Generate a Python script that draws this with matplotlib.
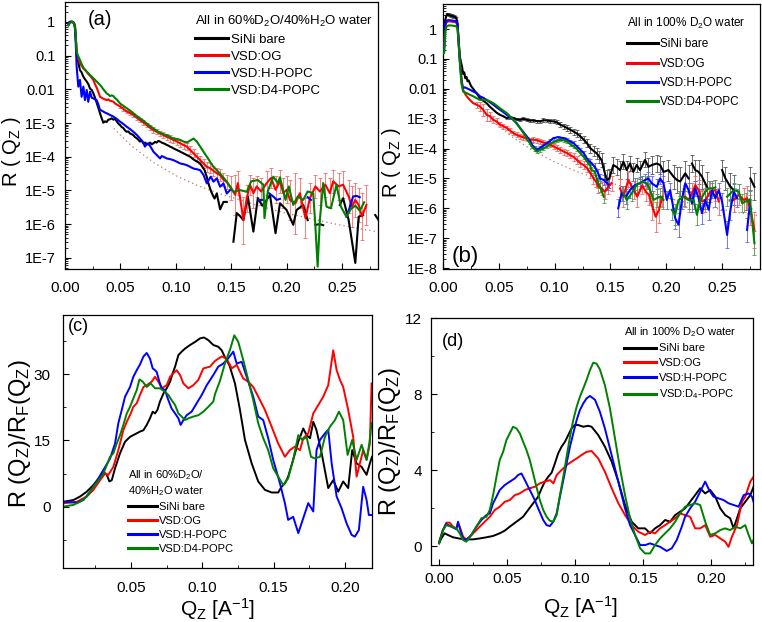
import numpy as np
import matplotlib
matplotlib.use('Agg')
import matplotlib.pyplot as plt
from matplotlib.ticker import FixedLocator, MultipleLocator, FuncFormatter, NullFormatter

plt.rcParams['font.family'] = ['Liberation Sans', 'DejaVu Sans']
plt.rcParams['mathtext.default'] = 'regular'

nan = np.nan

# ---------------- Panel (a): 60% D2O, (q, log10 R[, log10 error]) ----------------
black_a = [(0.003,-0.10),(0.004,0.00),(0.006,0.01),(0.008,-0.02),(0.009,-0.12),(0.0098,-0.50),(0.0105,-0.95),
 (0.0120,-1.20),(0.0135,-1.43),(0.0150,-1.50),(0.0165,-1.62),(0.0180,-1.70),(0.0196,-1.77),(0.0211,-1.85),
 (0.0226,-1.98),(0.0241,-2.02),(0.0256,-2.12),(0.0271,-2.25),(0.0286,-2.40),(0.0301,-2.55),(0.0316,-2.71),
 (0.0331,-2.86),(0.0346,-2.99),(0.0361,-2.95),(0.0376,-2.97),(0.0391,-2.90),(0.0406,-2.89),(0.0421,-2.86),
 (0.0437,-2.90),(0.0452,-2.88),(0.0467,-2.95),(0.0482,-3.02),(0.0497,-3.06),(0.0512,-3.12),(0.0527,-3.15),
 (0.0542,-3.22),(0.0557,-3.26),(0.0572,-3.25),(0.0587,-3.31),(0.0602,-3.33),(0.0617,-3.36),(0.0632,-3.42),
 (0.0647,-3.45),(0.0662,-3.50),(0.0677,-3.55),(0.0692,-3.52),(0.0707,-3.60),(0.0722,-3.58),(0.0737,-3.62),
 (0.0752,-3.64),(0.0768,-3.58),(0.0783,-3.63),(0.0798,-3.60),(0.0813,-3.56),(0.0828,-3.58),(0.0843,-3.53),
 (0.0858,-3.55),(0.0873,-3.58),(0.0888,-3.60),(0.0903,-3.62),(0.0918,-3.65),(0.0933,-3.67),(0.0948,-3.70),
 (0.0963,-3.72),(0.0978,-3.75),(0.101,-3.80),(0.104,-3.85),(0.107,-3.90),(0.110,-3.95),(0.113,-4.00),
 (0.116,-4.08),(0.119,-4.14),(0.122,-4.20),(0.124,-4.30),(0.126,-4.40),(0.128,-4.60),(0.129,-4.74),
 (0.1305,-4.90),(0.132,-5.04),(0.1335,-5.15),(0.135,-5.24),(0.137,-5.09),(0.140,-5.56),(0.143,-5.34),
 (0.146,-5.34),(0.149,nan),(0.152,-6.52),(0.155,-5.67),(0.158,-5.76),(0.161,-5.88),(0.165,-5.18),(0.170,-6.22),
 (0.174,-5.23),(0.178,-5.45),(0.181,-5.33),(0.185,-5.13),(0.190,-6.27),(0.194,-5.38),(0.200,-5.58),(0.206,-6.02),
 (0.209,-5.58),(0.215,-5.43),(0.219,-5.88),(0.222,nan),(0.226,-6.02),(0.230,-6.00),(0.233,-6.03),(0.236,nan),
 (0.248,-5.43),(0.251,-5.23),(0.256,-5.88),(0.262,-7.15),(0.265,-5.78),(0.269,-5.73),(0.272,nan),
 (0.280,-5.73),(0.283,-5.88)]

red_a = [(0.003,-0.05,0),(0.005,0.0,0),(0.007,0.0,0),(0.008,-0.03,0),(0.009,-0.10,0),(0.0098,-0.50,0),
 (0.0105,-0.95,0),(0.012,-1.10,0),(0.0135,-1.23,0),(0.015,-1.30,0),(0.0165,-1.38,0),(0.018,-1.42,0),
 (0.0196,-1.48,0),(0.0211,-1.55,0),(0.0226,-1.60,0),(0.0241,-1.66,0),(0.0256,-1.72,0),(0.0271,-1.85,0),
 (0.0286,-1.95,0),(0.0301,-2.08,0),(0.0316,-2.22,0),(0.0331,-2.25,0),(0.0346,-2.28,0),(0.0361,-2.30,0),
 (0.0376,-2.32,0),(0.0391,-2.30,0),(0.0406,-2.34,0),(0.0421,-2.35,0),(0.0437,-2.37,0),(0.0452,-2.42,0),
 (0.0467,-2.45,0),(0.0482,-2.48,0),(0.0497,-2.51,0.05),(0.0527,-2.58,0.05),(0.0557,-2.66,0.05),
 (0.0587,-2.70,0.05),(0.0617,-2.76,0.06),(0.0647,-2.84,0.06),(0.0677,-2.91,0.06),(0.0707,-2.98,0.07),
 (0.0737,-3.06,0.07),(0.0768,-3.14,0.07),(0.0798,-3.21,0.08),(0.0828,-3.26,0.08),(0.0858,-3.31,0.08),
 (0.0888,-3.36,0.09),(0.0918,-3.41,0.09),(0.0948,-3.45,0.10),(0.0978,-3.50,0.10),(0.101,-3.55,0.10),
 (0.104,-3.60,0.10),(0.107,-3.65,0.11),(0.110,-3.70,0.11),(0.113,-3.80,0.12),(0.116,-3.90,0.12),
 (0.119,-4.00,0.12),(0.122,-4.10,0.13),(0.125,-4.20,0.14),(0.128,-4.30,0.15),(0.131,-4.34,0.15),
 (0.134,-4.42,0.16),(0.137,-4.49,0.17),(0.140,-4.55,0.18),(0.143,-4.68,0.20),(0.146,-4.75,0.20),
 (0.150,-4.93,0.35),(0.1536,-5.13,0.60),(0.156,-4.78,0.35),(0.161,-5.88,0.70),(0.164,-5.23,0.40),
 (0.167,-4.83,0.30),(0.170,-5.08,0.45),(0.173,-4.88,0.30),(0.177,-5.03,0.40),(0.182,-4.78,0.35),
 (0.186,-4.63,0.30),(0.190,-4.98,0.40),(0.194,-4.73,0.35),(0.197,-5.08,0.45),(0.200,-4.98,0.40),
 (0.203,-5.28,0.60),(0.208,-5.38,0.90),(0.212,-5.08,0.45),(0.217,-5.82,0.60),(0.221,-5.23,0.45),
 (0.226,-4.88,0.35),(0.230,-5.03,0.40),(0.235,-4.83,0.35),(0.239,-5.08,0.45),(0.242,-4.73,0.35),
 (0.247,-4.88,0.40),(0.251,-4.83,0.40),(0.256,-5.18,0.50),(0.259,-5.48,0.60),(0.262,-5.28,0.50),
 (0.265,-5.43,0.50),(0.268,-5.77,0.70),(0.272,-5.43,0.60)]

blue_a = [(0.003,-0.05),(0.005,0.0),(0.007,0.0),(0.008,-0.05),(0.009,-0.20),(0.0098,-0.70),(0.0105,-1.33),
 (0.012,-1.92),(0.0135,-1.72),(0.015,-2.22),(0.0166,-1.92),(0.018,-2.32),(0.0196,-2.02),(0.021,-2.37),
 (0.0226,-2.07),(0.0241,-2.25),(0.0256,-2.27),(0.0271,-2.30),(0.0286,-2.32),(0.0301,-2.45),(0.0316,-2.61),
 (0.0331,-2.63),(0.0346,-2.66),(0.0361,-2.69),(0.0376,-2.71),(0.0406,-2.76),(0.0437,-2.81),(0.0467,-2.88),
 (0.0497,-2.96),(0.0527,-3.03),(0.0557,-3.11),(0.0587,-3.18),(0.0617,-3.26),(0.0647,-3.35),(0.0677,-3.46),
 (0.0700,-3.55),(0.0722,-3.70),(0.0737,-3.62),(0.0752,-3.60),(0.0775,-3.72),(0.0798,-3.85),(0.0828,-3.95),
 (0.0858,-4.05),(0.0873,-3.98),(0.0888,-4.00),(0.0918,-4.05),(0.0948,-4.07),(0.0978,-4.10),(0.101,-4.15),
 (0.104,-4.20),(0.107,-4.22),(0.110,-4.25),(0.113,-4.30),(0.116,-4.35),(0.119,-4.37),(0.122,-4.40),
 (0.125,-4.54),(0.128,-4.79),(0.1315,-4.59),(0.134,-4.74),(0.137,-4.64),(0.140,-4.89),(0.143,-4.79),
 (0.146,-5.09),(0.149,-4.99),(0.152,nan),(0.175,-5.28),(0.178,-5.28),(0.180,nan),(0.184,-5.08),
 (0.188,-5.18),(0.191,-5.28),(0.194,-5.25),(0.197,nan),(0.219,-5.20),(0.222,-5.28),(0.224,nan),
 (0.254,-5.78),(0.257,-5.50),(0.260,-5.18),(0.263,-5.16),(0.266,-5.20)]

green_a = [(0.003,-0.10),(0.005,-0.02),(0.007,0.0),(0.008,-0.05),(0.009,-0.15),(0.0098,-0.50),(0.0105,-0.90),
 (0.012,-1.02),(0.0135,-1.13),(0.015,-1.25),(0.0165,-1.35),(0.018,-1.42),(0.0196,-1.48),(0.0211,-1.52),
 (0.0226,-1.58),(0.0241,-1.62),(0.0256,-1.67),(0.0271,-1.72),(0.0286,-1.77),(0.0301,-1.82),(0.0316,-1.87),
 (0.0331,-1.93),(0.0346,-2.00),(0.0361,-2.06),(0.0376,-2.12),(0.0391,-2.15),(0.0406,-2.20),(0.0421,-2.18),
 (0.0437,-2.20),(0.0452,-2.26),(0.0467,-2.30),(0.0482,-2.36),(0.0497,-2.42),(0.0527,-2.49),(0.0557,-2.56),
 (0.0587,-2.63),(0.0617,-2.71),(0.0647,-2.79),(0.0677,-2.86),(0.0707,-2.93),(0.0737,-3.01),(0.0768,-3.09),
 (0.0798,-3.16),(0.0828,-3.23),(0.0858,-3.29),(0.0888,-3.33),(0.0918,-3.36),(0.0948,-3.41),(0.0978,-3.46),
 (0.101,-3.48),(0.104,-3.50),(0.107,-3.55),(0.110,-3.58),(0.113,-3.52),(0.116,-3.46),(0.119,-3.55),
 (0.122,-3.70),(0.125,-3.85),(0.128,-4.00),(0.131,-4.15),(0.134,-4.30),(0.137,-4.40),(0.140,-4.50),
 (0.143,-4.62),(0.146,-4.74),(0.149,-4.90),(0.152,-5.04),(0.158,-4.99),(0.164,-5.04),(0.168,-4.73),
 (0.174,-4.69),(0.179,-4.83),(0.180,-5.82),(0.183,-5.03),(0.188,-4.59),(0.192,-4.78),(0.194,-4.61),
 (0.199,-5.28),(0.202,-4.88),(0.206,-5.43),(0.210,-5.18),(0.215,-5.28),(0.219,-5.03),(0.224,-5.08),
 (0.226,-6.07),(0.228,-7.26),(0.230,-5.88),(0.233,-4.78),(0.236,-5.48),(0.240,-5.53),(0.245,-4.83),
 (0.249,-5.48),(0.254,-5.78),(0.258,-5.55),(0.262,-5.45),(0.266,-5.60),(0.270,-5.35)]

fresnel_a = [(0.044,-3.16),(0.06,-3.68),(0.08,-4.17),(0.10,-4.56),(0.12,-4.86),(0.14,-5.10),(0.16,-5.30),
 (0.18,-5.50),(0.20,-5.68),(0.22,-5.82),(0.24,-5.97),(0.26,-6.10),(0.283,-6.23)]

# ---------------- Panel (b): 100% D2O ----------------
black_b = [(0.001,-0.30,0),(0.002,0.30,0),(0.003,0.45,0),(0.004,0.50,0.04),(0.005,0.48,0.04),(0.006,0.46,0.04),
 (0.007,0.44,0.04),(0.008,0.45,0.04),(0.009,0.42,0.04),(0.010,0.42,0.04),(0.011,0.40,0.04),(0.012,0.35,0.04),
 (0.013,0.20,0),(0.014,-0.40,0),(0.015,-0.90,0),(0.016,-1.10,0),(0.017,-1.25,0),(0.018,-1.50,0),(0.019,-1.45,0),
 (0.020,-1.65,0),(0.021,-1.60,0),(0.022,-1.75,0),(0.023,-1.72,0),(0.025,-1.90,0),(0.027,-2.00,0),(0.029,-2.10,0),
 (0.031,-2.20,0),(0.033,-2.31,0),(0.036,-2.40,0),(0.039,-2.48,0),(0.042,-2.60,0),(0.045,-2.70,0),(0.048,-2.80,0),
 (0.051,-2.87,0),(0.054,-2.92,0),(0.057,-2.98,0.04),(0.060,-2.96,0.04),(0.063,-2.98,0.04),(0.066,-3.02,0.04),
 (0.069,-3.04,0.05),(0.072,-3.00,0.05),(0.075,-3.04,0.05),(0.078,-3.06,0.05),(0.081,-3.06,0.05),
 (0.084,-3.08,0.05),(0.087,-3.09,0.05),(0.090,-3.05,0.06),(0.093,-3.06,0.06),(0.096,-3.08,0.06),
 (0.099,-3.09,0.07),(0.102,-3.12,0.07),(0.105,-3.20,0.08),(0.108,-3.25,0.08),(0.111,-3.31,0.09),
 (0.114,-3.37,0.10),(0.117,-3.43,0.10),(0.120,-3.50,0.11),(0.123,-3.59,0.12),(0.126,-3.70,0.13),
 (0.129,-3.82,0.14),(0.132,-3.99,0.15),(0.135,-4.08,0.17),(0.1377,-4.16,0.18),(0.140,-4.28,0.20),
 (0.142,-4.38,0.22),(0.1445,-4.75,0.28),(0.1467,-5.05,0.33),(0.149,-5.00,0.33),(0.1526,-4.55,0.28),
 (0.1556,-4.62,0.28),(0.1586,-4.72,0.30),(0.1616,-4.44,0.25),(0.1646,-4.72,0.30),(0.1675,-4.50,0.25),
 (0.1705,-4.78,0.30),(0.1735,-4.55,0.25),(0.1765,-4.72,0.30),(0.181,-4.38,0.25),(0.184,-4.61,0.30),
 (0.187,-4.55,0.30),(0.1915,-4.50,0.30),(0.1945,-4.55,0.30),(0.1975,-4.78,0.35),(0.202,-4.72,0.35),
 (0.2065,-4.94,0.40),(0.2095,-5.05,0.45),(0.2125,-5.10,0.50),(0.217,-4.83,0.40),(0.220,-5.00,0.45),
 (0.2215,nan,0),(0.223,-4.50,0.30),(0.226,-4.72,0.35),(0.229,-4.78,0.40),(0.232,-4.94,0.40),
 (0.2365,-5.28,0.50),(0.240,nan,0),(0.250,-4.72,0.35),(0.253,-5.00,0.40),(0.2575,-5.28,0.45),
 (0.2605,-5.39,0.50),(0.265,nan,0),(0.2754,-5.00,0.40),(0.279,-5.28,0.45)]

red_b = [(0.001,-0.60,0),(0.002,0.10,0),(0.003,0.22,0),(0.005,0.26,0),(0.007,0.25,0),(0.009,0.24,0),(0.011,0.23,0),
 (0.012,0.20,0),(0.013,0.10,0),(0.014,-0.50,0),(0.015,-1.00,0),(0.016,-1.40,0),(0.0167,-1.70,0),(0.018,-2.03,0),
 (0.0195,-2.15,0),(0.0212,-2.25,0),(0.024,-2.37,0),(0.027,-2.48,0),(0.030,-2.53,0.10),(0.033,-2.59,0.15),
 (0.036,-2.70,0.20),(0.039,-2.87,0.20),(0.042,-2.92,0.15),(0.045,-3.04,0.12),(0.048,-3.09,0.10),
 (0.051,-3.20,0.08),(0.054,-3.25,0.08),(0.057,-3.31,0.08),(0.060,-3.40,0.08),(0.063,-3.48,0.08),
 (0.066,-3.54,0.08),(0.069,-3.59,0.08),(0.072,-3.62,0.08),(0.075,-3.68,0.08),(0.078,-3.71,0.08),
 (0.081,-3.70,0.08),(0.084,-3.72,0.08),(0.087,-3.76,0.08),(0.090,-3.80,0.08),(0.093,-3.82,0.08),
 (0.096,-3.86,0.08),(0.099,-3.93,0.08),(0.102,-3.98,0.10),(0.105,-4.04,0.10),(0.108,-4.10,0.10),
 (0.111,-4.15,0.10),(0.114,-4.22,0.10),(0.117,-4.28,0.12),(0.120,-4.38,0.12),(0.123,-4.49,0.12),
 (0.126,-4.55,0.14),(0.129,-4.65,0.15),(0.132,-4.82,0.16),(0.1347,-4.99,0.18),(0.137,-5.10,0.20),
 (0.139,-5.27,0.22),(0.142,-5.33,0.22),(0.145,-5.44,0.25),(0.148,-5.28,0.25),(0.151,-5.16,0.25),
 (0.154,nan,0),(0.1586,-5.33,0.30),(0.1616,-5.61,0.35),(0.166,-5.05,0.25),(0.171,-5.39,0.30),
 (0.174,-5.61,0.35),(0.1785,-5.22,0.30),(0.1815,-5.44,0.30),(0.1845,-5.55,0.35),(0.1875,-5.94,0.45),
 (0.1905,-6.28,0.50),(0.1935,-6.05,0.45),(0.1965,-5.61,0.35),(0.205,nan,0),(0.217,-5.61,0.35),
 (0.220,-5.72,0.40),(0.223,-5.50,0.35),(0.226,-5.22,0.30),(0.229,-5.39,0.35),(0.232,-5.77,0.40),
 (0.235,-5.72,0.40),(0.2395,-5.44,0.35),(0.244,-5.39,0.35),(0.247,-5.77,0.45),(0.252,nan,0),
 (0.2605,-5.72,0.40),(0.265,-5.55,0.35),(0.2694,-5.72,0.40),(0.2724,-5.66,0.40),(0.2754,-6.05,0.50),
 (0.279,-6.72,0.60)]

blue_b = [(0.001,-0.70,0),(0.002,0.15,0),(0.003,0.28,0),(0.005,0.30,0),(0.007,0.29,0),(0.009,0.28,0),(0.011,0.27,0),
 (0.012,0.25,0),(0.013,0.15,0),(0.014,-0.40,0),(0.015,-1.00,0),(0.016,-1.50,0),(0.0167,-1.81,0),(0.018,-1.98,0),
 (0.0195,-1.95,0),(0.0212,-1.98,0),(0.024,-2.03,0),(0.027,-2.09,0),(0.030,-2.14,0),(0.033,-2.25,0),
 (0.036,-2.30,0),(0.039,-2.37,0),(0.042,-2.45,0),(0.045,-2.53,0),(0.048,-2.62,0),(0.051,-2.70,0),
 (0.054,-2.78,0),(0.057,-2.87,0),(0.060,-2.95,0),(0.063,-3.04,0),(0.066,-3.15,0),(0.069,-3.31,0),
 (0.072,-3.45,0),(0.075,-3.59,0),(0.0775,-3.72,0.05),(0.0795,-3.87,0.05),(0.082,-3.98,0.05),
 (0.084,-4.04,0.05),(0.087,-3.98,0.05),(0.090,-3.90,0.05),(0.093,-3.82,0.05),(0.096,-3.74,0.05),
 (0.099,-3.65,0.05),(0.103,-3.62,0.05),(0.108,-3.65,0.05),(0.111,-3.70,0.05),(0.114,-3.76,0.05),
 (0.117,-3.82,0.06),(0.120,-3.93,0.06),(0.123,-4.04,0.07),(0.126,-4.15,0.08),(0.130,-4.40,0.10),
 (0.1317,-4.44,0.10),(0.136,-4.61,0.12),(0.139,-4.83,0.15),(0.1407,-5.00,0.15),(0.144,-5.05,0.18),
 (0.148,-5.20,0.20),(0.152,nan,0),(0.157,-6.00,0.30),(0.160,-5.50,0.25),(0.164,-5.60,0.25),
 (0.1675,-5.39,0.25),(0.172,-5.22,0.25),(0.1765,-5.16,0.20),(0.181,-5.05,0.20),(0.184,-5.00,0.20),
 (0.187,-5.16,0.25),(0.1915,-5.28,0.25),(0.1945,-5.00,0.20),(0.1975,-5.16,0.25),(0.2005,-5.72,0.30),
 (0.2035,-5.39,0.25),(0.208,-6.33,0.35),(0.211,-6.55,0.40),(0.214,-5.72,0.30),(0.217,-5.16,0.25),
 (0.220,-5.39,0.25),(0.223,-5.83,0.30),(0.226,-5.33,0.25),(0.229,-5.66,0.30),(0.232,-6.16,0.35),
 (0.235,-5.72,0.30),(0.238,-6.05,0.35),(0.241,-5.39,0.25),(0.244,-5.66,0.30),(0.247,-5.39,0.25),
 (0.250,-5.77,0.30),(0.2545,-6.89,0.45),(0.2575,-6.05,0.35),(0.2605,-5.44,0.25),(0.2635,-5.66,0.30),
 (0.267,nan,0),(0.2724,-6.72,0.40),(0.2754,-5.72,0.30)]

green_b = [(0.001,-0.80,0),(0.002,-0.10,0),(0.003,0.08,0),(0.005,0.12,0),(0.007,0.12,0),(0.009,0.11,0),
 (0.011,0.10,0),(0.012,0.08,0),(0.013,0.00,0),(0.014,-0.50,0),(0.015,-1.10,0),(0.016,-1.60,0),(0.0167,-1.86,0),
 (0.018,-2.09,0),(0.0195,-2.12,0),(0.0212,-2.14,0),(0.024,-2.20,0),(0.027,-2.25,0),(0.030,-2.31,0),
 (0.033,-2.37,0),(0.036,-2.37,0),(0.039,-2.37,0),(0.042,-2.42,0),(0.045,-2.48,0),(0.048,-2.56,0),
 (0.051,-2.65,0),(0.054,-2.73,0),(0.057,-2.81,0),(0.060,-2.92,0),(0.063,-3.04,0),(0.066,-3.17,0),
 (0.069,-3.31,0),(0.072,-3.48,0),(0.075,-3.65,0.05),(0.0775,-3.80,0.05),(0.0795,-3.93,0.06),
 (0.082,-4.02,0.06),(0.084,-4.10,0.06),(0.087,-4.04,0.06),(0.090,-4.00,0.05),(0.093,-3.93,0.05),
 (0.096,-3.85,0.05),(0.099,-3.78,0.05),(0.102,-3.74,0.05),(0.105,-3.71,0.05),(0.108,-3.72,0.05),
 (0.111,-3.76,0.05),(0.114,-3.85,0.05),(0.117,-3.93,0.06),(0.120,-4.02,0.06),(0.123,-4.15,0.07),
 (0.126,-4.28,0.08),(0.129,-4.43,0.09),(0.1317,-4.55,0.10),(0.133,-4.71,0.10),(0.136,-4.78,0.12),
 (0.139,-5.16,0.15),(0.1407,-5.27,0.18),(0.144,-5.61,0.20),(0.150,nan,0),(0.1616,-5.50,0.25),
 (0.1646,-5.72,0.30),(0.169,-5.50,0.25),(0.1735,-5.22,0.25),(0.178,-5.11,0.20),(0.1825,-5.16,0.20),
 (0.1855,-5.39,0.25),(0.1885,-5.72,0.30),(0.1915,-5.66,0.30),(0.1945,-5.61,0.30),(0.1975,-5.72,0.30),
 (0.201,nan,0),(0.205,-6.05,0.35),(0.208,-6.22,0.35),(0.211,-5.72,0.30),(0.2155,-5.61,0.30),
 (0.220,-5.72,0.30),(0.2245,-5.72,0.30),(0.2275,-6.22,0.35),(0.2305,-5.72,0.30),(0.235,-5.44,0.25),
 (0.238,-5.33,0.25),(0.241,-5.33,0.25),(0.244,-5.30,0.25),(0.249,nan,0),(0.2545,-5.61,0.30),
 (0.2575,-5.50,0.25),(0.2605,-5.39,0.25),(0.265,-5.44,0.25),(0.268,-5.83,0.30),(0.271,-5.77,0.30),
 (0.275,-5.70,0.30),(0.279,-7.17,0.40)]

fresnel_b = [(0.039,-2.81),(0.05,-3.24),(0.06,-3.56),(0.08,-4.06),(0.10,-4.45),(0.12,-4.77),(0.14,-5.03),
 (0.16,-5.26),(0.18,-5.47),(0.20,-5.65),(0.22,-5.82),(0.24,-5.97),(0.26,-6.11),(0.283,-6.25)]

# ---------------- Panel (c): R/R_F, 60% D2O ----------------
black_c = [(0.0026,1.1),(0.0096,1.5),(0.0143,2.3),(0.019,3.4),(0.0236,4.9),(0.0283,6.8),(0.0306,7.9),(0.033,7.2),
 (0.0348,5.7),(0.0365,6.0),(0.0388,8.7),(0.0423,12.1),(0.0458,14.7),(0.0493,15.8),(0.0516,16.2),(0.054,16.6),
 (0.0563,17.0),(0.0587,17.3),(0.061,18.5),(0.0633,20.0),(0.0652,21.5),(0.0668,21.1),(0.0685,21.9),(0.0703,23.8),
 (0.0727,25.6),(0.075,26.8),(0.0774,28.3),(0.0792,30.2),(0.0809,31.7),(0.0832,34.3),(0.0855,35.1),(0.0879,35.8),
 (0.0914,36.6),(0.0949,37.3),(0.0984,38.1),(0.1012,38.3),(0.1042,37.7),(0.1077,36.6),(0.1112,36.2),(0.1136,35.4),
 (0.1159,33.8),(0.119,32.0),(0.1229,27.9),(0.1264,21.9),(0.1299,15.1),(0.1346,9.8),(0.1392,5.7),(0.1439,3.8),
 (0.1486,3.2),(0.1532,3.2),(0.1556,4.5),(0.158,5.3),(0.1602,6.8),(0.1637,10.6),(0.1673,14.7),(0.1708,17.7),
 (0.1731,16.2),(0.1755,15.5),(0.1778,19.2),(0.180,17.4),(0.1837,12.1),(0.1883,4.2),(0.1918,6.0),(0.1953,3.4),
 (0.1988,5.7),(0.2023,4.2),(0.2051,12.8),(0.2082,9.8),(0.2117,9.0),(0.2152,7.2),(0.2175,9.8),(0.219,11.3)]

red_c = [(0.0026,0.75),(0.012,1.1),(0.019,2.3),(0.0236,3.8),(0.0283,6.0),(0.0318,7.5),(0.0341,7.2),(0.0376,9.0),
 (0.0411,12.8),(0.0446,17.3),(0.047,19.2),(0.0498,21.1),(0.0516,22.6),(0.054,23.4),(0.0563,25.3),(0.0587,27.1),
 (0.061,27.5),(0.0645,28.3),(0.0668,29.4),(0.0692,28.3),(0.0715,26.8),(0.075,27.5),(0.0774,29.4),(0.0797,30.2),
 (0.082,30.9),(0.0844,29.8),(0.0867,27.9),(0.0902,26.8),(0.0937,27.5),(0.0972,28.7),(0.1007,31.3),(0.1054,31.7),
 (0.1089,33.0),(0.1136,34.0),(0.1171,33.5),(0.1206,31.3),(0.1241,32.1),(0.1287,29.0),(0.1322,28.3),
 (0.1357,27.1),(0.1392,24.9),(0.1439,21.9),(0.1486,18.1),(0.1532,14.3),(0.1579,11.3),(0.1614,12.8),
 (0.1649,13.6),(0.1685,12.8),(0.1708,15.5),(0.1743,16.6),(0.1778,21.1),(0.1813,23.0),(0.1848,24.9),
 (0.1883,27.5),(0.1918,35.4),(0.1942,30.9),(0.1965,28.7),(0.1988,27.1),(0.2023,21.9),(0.2058,15.8),
 (0.2082,6.8),(0.2105,9.8),(0.2128,12.8),(0.2152,10.6),(0.2175,14.3),(0.2187,27.9)]

blue_c = [(0.0026,1.1),(0.012,0.9),(0.0166,1.5),(0.0213,3.4),(0.0259,5.7),(0.0306,8.3),(0.0353,10.9),(0.0388,14.3),
 (0.0411,18.9),(0.0435,21.9),(0.0458,24.9),(0.0493,27.1),(0.0516,29.4),(0.0545,31.2),(0.0563,32.2),(0.0587,34.0),
 (0.061,34.8),(0.0633,33.5),(0.0652,31.3),(0.0668,30.9),(0.068,30.5),(0.0699,28.3),(0.0715,26.8),(0.0738,26.4),
 (0.0762,24.1),(0.0785,22.2),(0.0809,21.1),(0.0832,20.0),(0.0848,18.5),(0.0867,19.6),(0.089,20.7),(0.0925,21.5),
 (0.096,23.4),(0.0996,25.3),(0.1031,27.5),(0.1077,29.8),(0.1112,31.7),(0.1147,32.4),(0.1182,33.6),(0.1217,35.1),
 (0.1241,32.4),(0.1276,32.8),(0.1311,29.4),(0.1357,24.9),(0.1392,20.4),(0.1427,19.6),(0.1462,15.5),(0.1497,10.6),
 (0.1544,5.3),(0.1579,0.8),(0.1602,-3.0),(0.1637,-2.3),(0.1673,-6.0),(0.1708,-2.6),(0.1743,0.8),(0.1778,-1.1),
 (0.1801,12.8),(0.1825,15.1),(0.186,16.6),(0.1883,17.4),(0.1907,9.8),(0.1942,2.3),(0.1977,-0.4),(0.2012,-3.8),
 (0.2047,-6.4),(0.207,-6.8),(0.2098,-5.3),(0.2128,4.5),(0.2152,1.5),(0.2168,-1.9),(0.2187,-1.9)]

green_c = [(0.0026,0.0),(0.0096,0.4),(0.0143,1.1),(0.019,2.3),(0.0236,4.5),(0.0283,6.4),(0.0306,7.5),(0.033,9.4),
 (0.0353,11.3),(0.0376,12.1),(0.040,14.3),(0.0423,16.2),(0.0446,18.5),(0.047,21.1),(0.0493,22.6),(0.0516,24.5),
 (0.054,26.4),(0.0559,28.8),(0.0582,28.3),(0.061,27.1),(0.0638,27.9),(0.0668,26.8),(0.0703,26.8),(0.0738,26.0),
 (0.0762,25.3),(0.0785,24.1),(0.0809,23.0),(0.0832,21.1),(0.0855,20.4),(0.0879,19.6),(0.0902,20.0),(0.0937,20.4),
 (0.0972,20.7),(0.1007,21.5),(0.1042,22.6),(0.1077,23.8),(0.1089,25.5),(0.1124,28.5),(0.1159,32.5),
 (0.1194,35.5),(0.1224,38.8),(0.1252,37.3),(0.1287,33.2),(0.1322,28.7),(0.1357,24.1),(0.1392,18.9),
 (0.1427,15.5),(0.1462,12.8),(0.1497,8.7),(0.1532,6.8),(0.1567,4.9),(0.1602,6.4),(0.1637,10.6),(0.1673,16.2),
 (0.1701,15.1),(0.1731,15.8),(0.1762,11.3),(0.179,10.9),(0.1825,11.3),(0.186,15.8),(0.1895,18.1),(0.193,19.6),
 (0.1958,21.5),(0.1988,19.6),(0.2019,11.7),(0.2051,15.1),(0.2082,10.6),(0.2117,14.0),(0.2152,10.6),
 (0.2171,14.3),(0.2187,18.9)]

# ---------------- Panel (d): R/R_F, 100% D2O ----------------
black_d = [(0.0,0.14),(0.0016,0.40),(0.004,0.67),(0.0065,0.58),(0.0102,0.46),(0.0151,0.39),(0.020,0.35),(0.025,0.35),
 (0.0299,0.40),(0.0348,0.46),(0.0397,0.53),(0.0446,0.67),(0.0483,0.81),(0.052,1.02),(0.0569,1.28),(0.0618,1.54),
 (0.0655,1.90),(0.0692,2.25),(0.0729,2.60),(0.0754,3.03),(0.0778,3.39),(0.0803,3.65),(0.0828,3.86),(0.0852,4.35),
 (0.0876,4.88),(0.0901,5.23),(0.0926,5.49),(0.095,5.84),(0.0974,6.19),(0.0999,6.37),(0.1024,6.37),(0.106,6.28),
 (0.1097,6.33),(0.1122,6.28),(0.1171,5.84),(0.122,5.23),(0.127,4.44),(0.1319,3.39),(0.1368,2.16),(0.1417,1.28),
 (0.1466,0.93),(0.1516,0.93),(0.1552,0.67),(0.1589,0.93),(0.1626,1.10),(0.1663,1.37),(0.170,1.28),(0.1737,1.63),
 (0.1774,1.81),(0.181,1.98),(0.1847,2.33),(0.1884,2.68),(0.1921,3.04),(0.1958,2.77),(0.1995,2.95),(0.2032,2.60),
 (0.2069,1.98),(0.2105,1.63),(0.2142,1.46),(0.2167,0.93),(0.2192,1.46),(0.2216,1.98),(0.2253,2.33),(0.229,2.68),
 (0.2314,3.12)]

red_d = [(0.0,0.23),(0.0028,0.84),(0.0053,1.23),(0.0077,1.23),(0.0102,1.02),(0.0127,0.93),(0.0139,1.19),(0.0151,1.02),
 (0.0176,0.49),(0.020,0.35),(0.0225,0.49),(0.0262,0.75),(0.0299,1.02),(0.0336,1.28),(0.0373,1.54),(0.041,1.90),
 (0.0446,2.07),(0.0483,2.33),(0.052,2.42),(0.0557,2.68),(0.0594,2.77),(0.0631,2.95),(0.0667,3.04),(0.0704,3.12),
 (0.0741,3.30),(0.0778,3.39),(0.0816,3.47),(0.0841,3.30),(0.0865,3.74),(0.0901,4.00),(0.0938,4.26),(0.0975,4.44),
 (0.1012,4.61),(0.1048,4.79),(0.1085,4.96),(0.1122,5.00),(0.1171,4.61),(0.122,3.91),(0.127,3.04),(0.1319,2.25),
 (0.1368,1.63),(0.1417,1.10),(0.1466,0.75),(0.1516,0.58),(0.1552,0.75),(0.1589,0.67),(0.1626,0.93),(0.1663,1.10),
 (0.170,1.28),(0.1737,1.46),(0.1774,1.72),(0.181,1.63),(0.1847,1.54),(0.1884,0.93),(0.1921,0.93),(0.1958,1.10),
 (0.1995,0.49),(0.2032,0.58),(0.2069,0.40),(0.2105,0.23),(0.213,-0.04),(0.2155,0.49),(0.2192,1.10),(0.2229,2.33),
 (0.2253,2.60),(0.229,3.39),(0.2314,3.65)]

blue_d = [(0.0,0.18),(0.0028,0.84),(0.0053,1.16),(0.009,1.02),(0.0127,0.88),(0.0139,1.28),(0.0156,0.84),(0.0176,0.40),
 (0.020,0.32),(0.0237,0.58),(0.0274,1.02),(0.0311,1.37),(0.0348,1.63),(0.0373,1.72),(0.0397,2.25),(0.0422,2.60),
 (0.0446,2.95),(0.0483,3.21),(0.052,3.39),(0.0557,3.56),(0.0581,3.74),(0.0606,3.82),(0.0631,3.47),(0.0655,3.12),
 (0.068,2.77),(0.0704,2.42),(0.0729,1.98),(0.0766,1.37),(0.0791,1.10),(0.0815,1.05),(0.084,1.28),(0.0865,1.72),
 (0.0889,2.60),(0.0914,3.47),(0.0938,4.35),(0.0963,5.23),(0.0987,5.93),(0.1012,6.63),(0.1036,7.16),(0.1061,7.51),
 (0.1085,7.77),(0.111,7.90),(0.1147,7.70),(0.1183,7.07),(0.122,6.19),(0.1257,5.14),(0.1294,4.09),(0.1331,3.04),
 (0.1368,1.98),(0.1405,1.10),(0.1442,0.58),(0.1479,0.05),(0.1516,0.05),(0.1552,0.14),(0.1589,0.05),(0.1626,-0.04),
 (0.1675,-0.26),(0.1712,-0.12),(0.1749,0.32),(0.1786,1.02),(0.181,1.54),(0.1847,1.98),(0.1884,2.33),(0.1921,2.86),
 (0.1958,3.39),(0.1987,2.95),(0.2019,2.60),(0.2056,2.51),(0.2093,2.42),(0.213,2.25),(0.2167,2.16),(0.2204,2.07),
 (0.2241,2.68),(0.2278,2.77),(0.2302,2.60),(0.2314,2.33)]

green_d = [(0.0,0.14),(0.0028,0.84),(0.0053,1.10),(0.009,1.02),(0.0127,0.93),(0.0151,0.67),(0.0176,0.32),(0.020,0.23),
 (0.0237,0.58),(0.0274,1.02),(0.0311,1.46),(0.0348,1.54),(0.0373,1.90),(0.0397,2.68),(0.0422,3.65),(0.0446,4.53),
 (0.0471,4.96),(0.0495,5.58),(0.052,5.93),(0.0544,6.28),(0.0569,6.19),(0.0594,5.93),(0.0618,5.49),(0.0643,5.05),
 (0.0667,4.53),(0.0692,3.82),(0.0716,3.12),(0.0741,2.42),(0.0766,1.90),(0.0791,1.54),(0.0815,1.33),(0.084,1.28),
 (0.0865,1.63),(0.0889,2.68),(0.0914,3.65),(0.0938,4.70),(0.0963,5.75),(0.0987,6.63),(0.1012,7.33),(0.1036,7.86),
 (0.1061,8.30),(0.1085,8.74),(0.111,9.26),(0.1134,9.65),(0.1159,9.60),(0.1183,9.30),(0.122,8.47),(0.1257,7.25),
 (0.1294,5.67),(0.1331,4.09),(0.1368,2.68),(0.1405,1.46),(0.1442,0.58),(0.1479,-0.12),(0.1516,-0.39),
 (0.1552,-0.39),(0.1589,0.05),(0.1626,0.40),(0.1663,0.67),(0.170,0.93),(0.1737,1.28),(0.1774,1.72),(0.181,2.07),
 (0.1847,2.16),(0.1884,2.25),(0.1921,2.16),(0.1958,1.28),(0.1995,0.58),(0.2032,0.67),(0.2069,0.84),(0.2105,0.93),
 (0.2142,0.84),(0.2179,1.02),(0.2216,0.93),(0.2253,1.10),(0.2278,0.58),(0.2302,0.14),(0.2319,0.40)]

labels = ['SiNi bare', 'VSD:OG', 'VSD:H-POPC', 'VSD:D4-POPC']
labels_d = ['SiNi bare', 'VSD:OG', 'VSD:H-POPC', 'VSD:D$_4$-POPC']
colors = ['#000000', '#ff0000', '#0000ff', '#008000']


def unpack(pts):
    arr = np.array([list(p) + [0.0] * (3 - len(p)) for p in pts], dtype=float)
    return arr[:, 0], arr[:, 1], arr[:, 2]


def log_fmt(v, pos):
    if v >= 0.999:
        return '1'
    if abs(v - 0.1) < 1e-6:
        return '0.1'
    if abs(v - 0.01) < 1e-7:
        return '0.01'
    return '1E%d' % int(round(np.log10(v)))


fig = plt.figure(figsize=(7.62, 6.22), dpi=100)

ax_a = fig.add_axes([0.0853, 0.5675, 0.4108, 0.4293])
ax_b = fig.add_axes([0.5814, 0.5675, 0.4160, 0.4260])
ax_c = fig.add_axes([0.0827, 0.0868, 0.4055, 0.4068])
ax_d = fig.add_axes([0.5656, 0.0916, 0.4226, 0.3970])


def draw_log(ax, series, fres, ecols):
    for (pts, col, lab, ec) in zip(series, colors, labels, ecols):
        q, lg, e = unpack(pts)
        R = 10.0 ** lg
        ax.plot(q, R, color=col, lw=1.5, label=lab, zorder=3)
        m = (e > 0) & np.isfinite(R)
        if m.any():
            lo = R[m] - R[m] * 10.0 ** (-e[m])
            hi = R[m] * 10.0 ** (e[m]) - R[m]
            ax.errorbar(q[m], R[m], yerr=[lo, hi], fmt='none', ecolor=ec, elinewidth=0.6,
                        capsize=1.6, capthick=0.6, zorder=2)
    qf, lf, _ = unpack(fres)
    ax.plot(qf, 10.0 ** lf, color='#b07a6a', lw=0.9, ls=(0, (1, 2.5)), zorder=1)
    ax.set_yscale('log')


draw_log(ax_a, [black_a, red_a, blue_a, green_a], fresnel_a,
         ['#555555', '#ff6666', '#6666ff', '#55aa55'])
draw_log(ax_b, [black_b, red_b, blue_b, green_b], fresnel_b,
         ['#555555', '#ff6060', '#6060ff', '#4a9e4a'])

ax_a.set_xlim(0, 0.2825)
ax_a.set_ylim(10 ** -7.33, 10 ** 0.59)
ax_b.set_xlim(0, 0.284)
ax_b.set_ylim(10 ** -8.03, 10 ** 0.836)

for ax, decs in ((ax_a, range(-7, 1)), (ax_b, range(-8, 1))):
    ax.yaxis.set_major_locator(FixedLocator([10.0 ** k for k in decs]))
    ax.yaxis.set_major_formatter(FuncFormatter(log_fmt))
    ax.yaxis.set_minor_locator(FixedLocator([s * 10.0 ** k for k in range(-9, 1) for s in range(2, 10)]))
    ax.yaxis.set_minor_formatter(NullFormatter())
    ax.xaxis.set_major_locator(MultipleLocator(0.05))
    ax.xaxis.set_minor_locator(MultipleLocator(0.025))
    ax.xaxis.set_major_formatter(FuncFormatter(lambda v, p: '%.2f' % v))
    ax.set_ylabel('R ( Q$_Z$ )', fontsize=14.5)

ax_a.yaxis.set_label_coords(-0.134, 0.44)
ax_b.yaxis.set_label_coords(-0.127, 0.40)

for ax, series, labs in ((ax_c, [black_c, red_c, blue_c, green_c], labels),
                         (ax_d, [black_d, red_d, blue_d, green_d], labels_d)):
    for pts, col, lab in zip(series, colors, labs):
        q, v, _ = unpack(pts)
        ax.plot(q, v, color=col, lw=1.4, label=lab)
    ax.set_ylabel('R (Q$_Z$)/R$_F$(Q$_Z$)', fontsize=17)
    ax.set_xlabel('Q$_Z$ [A$^{-1}$]', fontsize=15)
    ax.xaxis.set_minor_locator(MultipleLocator(0.025))
    ax.xaxis.set_major_formatter(FuncFormatter(lambda v, p: '%.2f' % v))

ax_c.set_xlim(0.0023, 0.219)
ax_c.set_ylim(-13.9, 43.4)
ax_c.xaxis.set_major_locator(FixedLocator([0.05, 0.10, 0.15, 0.20]))
ax_c.yaxis.set_major_locator(FixedLocator([0, 15, 30]))
ax_c.yaxis.set_minor_locator(MultipleLocator(7.5))
ax_c.yaxis.set_label_coords(-0.098, 0.53)
ax_c.xaxis.set_label_coords(0.50, -0.112)

ax_d.set_xlim(-0.006, 0.231)
ax_d.set_ylim(-1.0, 12.0)
ax_d.xaxis.set_major_locator(FixedLocator([0.0, 0.05, 0.10, 0.15, 0.20]))
ax_d.yaxis.set_major_locator(FixedLocator([0, 4, 8, 12]))
ax_d.yaxis.set_minor_locator(MultipleLocator(2))
ax_d.yaxis.set_label_coords(-0.086, 0.50)
ax_d.xaxis.set_label_coords(0.463, -0.118)

for ax in (ax_a, ax_b, ax_c, ax_d):
    ax.tick_params(which='both', direction='in', top=False, right=False, labelsize=11)
    ax.tick_params(which='major', length=4, width=0.8)
    ax.tick_params(which='minor', length=2.2, width=0.6)
    for sp in ax.spines.values():
        sp.set_linewidth(0.9)

ax_a.tick_params(axis='x', which='major', pad=8.5)
ax_a.tick_params(axis='y', which='major', pad=7.0, labelsize=10.5)
ax_b.tick_params(axis='x', which='major', pad=8.5)
ax_b.tick_params(axis='y', which='major', pad=4.0, labelsize=10.5)
ax_c.tick_params(axis='x', which='major', pad=9.5)
ax_c.tick_params(axis='y', which='major', pad=9.0)
ax_d.tick_params(axis='x', which='major', pad=5.0)
ax_d.tick_params(axis='y', which='major', pad=6.5)

# panel letters
ax_a.text(0.073, 0.933, '(a)', transform=ax_a.transAxes, fontsize=14.5, va='center', ha='left')
ax_b.text(0.027, 0.046, '(b)', transform=ax_b.transAxes, fontsize=16, va='center', ha='left')
ax_c.text(0.016, 0.955, '(c)', transform=ax_c.transAxes, fontsize=13, va='center', ha='left')
ax_d.text(0.033, 0.904, '(d)', transform=ax_d.transAxes, fontsize=13, va='center', ha='left')


def legend(ax, title, anchor, fs, ls, hl):
    leg = ax.legend(loc='upper left', bbox_to_anchor=anchor, title=title, alignment='left',
                    frameon=False, fontsize=fs, title_fontsize=fs, handlelength=hl,
                    handletextpad=0.2, labelspacing=ls, borderpad=0, borderaxespad=0)
    for ln in leg.get_lines():
        ln.set_linewidth(2.2)
    return leg


legend(ax_a, 'All in 60%D$_2$O/40%H$_2$O water', (0.415, 0.955), 9.5, 0.36, 2.5)
legend(ax_b, 'All in 100% D$_2$O water', (0.58, 0.955), 8.5, 0.62, 2.6)
legend(ax_c, 'All in 60%D$_2$O/\n40%H$_2$O water', (0.211, 0.395), 8.0, 0.36, 2.6)
legend(ax_d, 'All in 100% D$_2$O water', (0.60, 0.972), 8.0, 0.42, 2.9)

fig.savefig('out.png', dpi=100)
